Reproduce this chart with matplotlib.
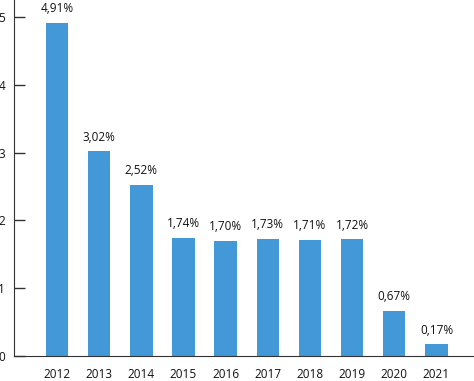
import matplotlib
matplotlib.use("Agg")
import matplotlib.pyplot as plt

years = ["2012", "2013", "2014", "2015", "2016", "2017", "2018", "2019", "2020", "2021"]
values = [4.91, 3.02, 2.52, 1.74, 1.70, 1.73, 1.71, 1.72, 0.67, 0.17]
labels = ["4,91%", "3,02%", "2,52%", "1,74%", "1,70%", "1,73%", "1,71%", "1,72%", "0,67%", "0,17%"]

plt.rcParams['font.family'] = ['Open Sans', 'DejaVu Sans']

W, H = 474, 381
fig = plt.figure(figsize=(W / 100, H / 100), dpi=100)
ax = fig.add_axes([14 / W, 25 / H, 460 / W, 356 / H])

x = list(range(len(years)))
ax.bar(x, values, width=0.53, color="#4398d8")

for xi, v, lab in zip(x, values, labels):
    ax.annotate(lab, (xi, v), xytext=(0, 5.5), textcoords="offset points",
                ha="center", va="bottom", fontsize=8.5, color="#111111")

ax.set_xlim(-1.02, 9.89)
ax.set_ylim(0, 5.25)
ax.set_yticks([0, 1, 2, 3, 4, 5])
ax.set_xticks(x)
ax.set_xticklabels(years)

ax.spines['top'].set_visible(False)
ax.spines['right'].set_visible(False)
ax.spines['left'].set_color("#333333")
ax.spines['bottom'].set_color("#333333")
ax.tick_params(axis='y', direction='in', length=8, width=1, color="#333333",
               labelsize=8.5, labelcolor="#111111", pad=6.5)
ax.tick_params(axis='x', length=0, labelsize=8.5, labelcolor="#111111", pad=8.5)

fig.savefig("out.png", dpi=100)
